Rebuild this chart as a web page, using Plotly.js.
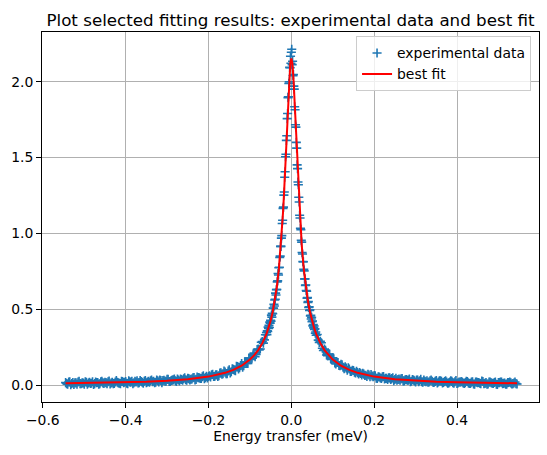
<!DOCTYPE html>
<html>
<head>
<meta charset="utf-8">
<script src="https://cdn.plot.ly/plotly-3.0.1.min.js"></script>
<style>
  html, body { margin: 0; padding: 0; background: #ffffff; }
  #plot { width: 547px; height: 455px; }
</style>
</head>
<body>
<div id="plot"></div>
<script>
// Measured spectrum: energy transfer (meV) and intensity.
// Wings are sampled on two interleaved grids, the quasi-elastic core on a fine grid.
const dataXLeft = [
  -0.545, -0.540, -0.535, -0.530, -0.525, -0.520, -0.515, -0.510, -0.505, -0.500,
  -0.495, -0.490, -0.485, -0.480, -0.475, -0.470, -0.465, -0.460, -0.455, -0.450,
  -0.445, -0.440, -0.435, -0.430, -0.425, -0.420, -0.415, -0.410, -0.405, -0.400,
  -0.395, -0.390, -0.385, -0.380, -0.375, -0.370, -0.365, -0.360, -0.355, -0.350,
  -0.345, -0.340, -0.335, -0.330, -0.325, -0.320, -0.315, -0.310, -0.305, -0.300,
  -0.295, -0.290, -0.285, -0.280, -0.275, -0.270, -0.265, -0.260, -0.255, -0.250,
  -0.245, -0.240, -0.235, -0.230, -0.225, -0.220, -0.215, -0.210, -0.205, -0.200,
  -0.195, -0.190, -0.185, -0.180, -0.175, -0.170, -0.165, -0.160, -0.155, -0.150,
  -0.145, -0.140, -0.135, -0.130, -0.125, -0.120, -0.115, -0.110, -0.105, -0.100,
  -0.095, -0.090, -0.085, -0.080, -0.075, -0.070, -0.065
];
const dataYLeft = [
  0.016, 0.006, 0.021, 0.010, 0.003, 0.015, 0.020, 0.009, 0.014, 0.006,
  0.018, 0.013, 0.011, 0.022, 0.009, 0.016, 0.006, 0.021, 0.014, 0.018,
  0.009, 0.026, 0.013, 0.009, 0.020, 0.018, 0.012, 0.024, 0.016, 0.023,
  0.009, 0.021, 0.025, 0.015, 0.020, 0.014, 0.029, 0.018, 0.025, 0.015,
  0.024, 0.028, 0.022, 0.016, 0.032, 0.020, 0.030, 0.029, 0.025, 0.037,
  0.023, 0.030, 0.034, 0.028, 0.039, 0.026, 0.036, 0.041, 0.035, 0.045,
  0.034, 0.040, 0.050, 0.037, 0.049, 0.044, 0.055, 0.042, 0.057, 0.056,
  0.054, 0.070, 0.057, 0.068, 0.061, 0.080, 0.074, 0.085, 0.075, 0.101,
  0.087, 0.103, 0.094, 0.121, 0.115, 0.141, 0.127, 0.152, 0.143, 0.178,
  0.177, 0.210, 0.201, 0.238, 0.238, 0.287, 0.298
];
const dataXLeftMid = [
  -0.5425, -0.5375, -0.5325, -0.5275, -0.5225, -0.5175, -0.5125, -0.5075, -0.5025, -0.4975,
  -0.4925, -0.4875, -0.4825, -0.4775, -0.4725, -0.4675, -0.4625, -0.4575, -0.4525, -0.4475,
  -0.4425, -0.4375, -0.4325, -0.4275, -0.4225, -0.4175, -0.4125, -0.4075, -0.4025, -0.3975,
  -0.3925, -0.3875, -0.3825, -0.3775, -0.3725, -0.3675, -0.3625, -0.3575, -0.3525, -0.3475,
  -0.3425, -0.3375, -0.3325, -0.3275, -0.3225, -0.3175, -0.3125, -0.3075, -0.3025, -0.2975,
  -0.2925, -0.2875, -0.2825, -0.2775, -0.2725, -0.2675, -0.2625, -0.2575, -0.2525, -0.2475,
  -0.2425, -0.2375, -0.2325, -0.2275, -0.2225, -0.2175, -0.2125, -0.2075, -0.2025, -0.1975,
  -0.1925, -0.1875, -0.1825, -0.1775, -0.1725, -0.1675, -0.1625, -0.1575, -0.1525, -0.1475,
  -0.1425, -0.1375, -0.1325, -0.1275, -0.1225, -0.1175, -0.1125, -0.1075, -0.1025, -0.0975,
  -0.0925, -0.0875, -0.0825, -0.0775, -0.0725, -0.0675, -0.0625
];
const dataYLeftMid = [
  0.009, 0.020, 0.002, 0.017, 0.014, 0.005, 0.024, 0.008, 0.013, 0.022,
  0.005, 0.018, 0.012, 0.003, 0.020, 0.017, 0.008, 0.025, 0.011, 0.016,
  0.022, 0.007, 0.018, 0.011, 0.029, 0.014, 0.009, 0.023, 0.018, 0.012,
  0.027, 0.018, 0.009, 0.024, 0.027, 0.016, 0.023, 0.012, 0.030, 0.020,
  0.018, 0.033, 0.025, 0.018, 0.028, 0.032, 0.016, 0.031, 0.025, 0.037,
  0.023, 0.032, 0.040, 0.024, 0.033, 0.039, 0.031, 0.047, 0.031, 0.042,
  0.038, 0.048, 0.034, 0.052, 0.048, 0.043, 0.060, 0.049, 0.046, 0.061,
  0.068, 0.056, 0.067, 0.057, 0.079, 0.071, 0.092, 0.074, 0.092, 0.080,
  0.107, 0.097, 0.123, 0.106, 0.128, 0.117, 0.153, 0.143, 0.178, 0.169,
  0.199, 0.187, 0.234, 0.232, 0.282, 0.276, 0.331
];

const dataXCore = [
  -0.060, -0.059, -0.058, -0.057, -0.056, -0.055, -0.054, -0.053, -0.052, -0.051,
  -0.050, -0.049, -0.048, -0.047, -0.046, -0.045, -0.044, -0.043, -0.042, -0.041,
  -0.040, -0.039, -0.038, -0.037, -0.036, -0.035, -0.034, -0.033, -0.032, -0.031,
  -0.030, -0.029, -0.028, -0.027, -0.026, -0.025, -0.024, -0.023, -0.022, -0.021,
  -0.020, -0.019, -0.018, -0.017, -0.016, -0.015, -0.014, -0.013, -0.012, -0.011,
  -0.010, -0.009, -0.008, -0.007, -0.006, -0.005, -0.004, -0.003, -0.002, -0.001,
  0.000,
  0.001, 0.002, 0.003, 0.004, 0.005, 0.006, 0.007, 0.008, 0.009, 0.010,
  0.011, 0.012, 0.013, 0.014, 0.015, 0.016, 0.017, 0.018, 0.019, 0.020,
  0.021, 0.022, 0.023, 0.024, 0.025, 0.026, 0.027, 0.028, 0.029, 0.030,
  0.031, 0.032, 0.033, 0.034, 0.035, 0.036, 0.037, 0.038, 0.039, 0.040,
  0.041, 0.042, 0.043, 0.044, 0.045, 0.046, 0.047, 0.048, 0.049, 0.050,
  0.051, 0.052, 0.053, 0.054, 0.055, 0.056, 0.057, 0.058, 0.059, 0.060
];
const dataYCore = [
  0.346, 0.332, 0.357, 0.353, 0.382, 0.373, 0.393, 0.379, 0.415, 0.407,
  0.426, 0.421, 0.461, 0.448, 0.473, 0.470, 0.508, 0.506, 0.533, 0.521,
  0.561, 0.566, 0.606, 0.594, 0.629, 0.630, 0.680, 0.687, 0.735, 0.726,
  0.773, 0.777, 0.841, 0.850, 0.914, 0.914, 0.969, 0.985, 1.065, 1.087,
  1.165, 1.173, 1.252, 1.273, 1.370, 1.406, 1.505, 1.522, 1.613, 1.644,
  1.757, 1.791, 1.895, 1.901, 1.988, 1.999, 2.095, 2.092, 2.168, 2.122,
  2.194,
  2.214, 2.113, 2.135, 2.039, 2.048, 1.971, 1.951, 1.835, 1.815, 1.716,
  1.701, 1.600, 1.562, 1.452, 1.427, 1.339, 1.321, 1.238, 1.207, 1.120,
  1.101, 1.034, 1.025, 0.955, 0.942, 0.874, 0.864, 0.814, 0.813, 0.763,
  0.753, 0.699, 0.700, 0.657, 0.660, 0.623, 0.618, 0.573, 0.576, 0.545,
  0.551, 0.511, 0.515, 0.491, 0.496, 0.456, 0.460, 0.435, 0.446, 0.418,
  0.422, 0.390, 0.398, 0.377, 0.389, 0.366, 0.370, 0.341, 0.350, 0.328
];

const dataXRight = [
  0.065, 0.070, 0.075, 0.080, 0.085, 0.090, 0.095, 0.100, 0.105, 0.110,
  0.115, 0.120, 0.125, 0.130, 0.135, 0.140, 0.145, 0.150, 0.155, 0.160,
  0.165, 0.170, 0.175, 0.180, 0.185, 0.190, 0.195, 0.200, 0.205, 0.210,
  0.215, 0.220, 0.225, 0.230, 0.235, 0.240, 0.245, 0.250, 0.255, 0.260,
  0.265, 0.270, 0.275, 0.280, 0.285, 0.290, 0.295, 0.300, 0.305, 0.310,
  0.315, 0.320, 0.325, 0.330, 0.335, 0.340, 0.345, 0.350, 0.355, 0.360,
  0.365, 0.370, 0.375, 0.380, 0.385, 0.390, 0.395, 0.400, 0.405, 0.410,
  0.415, 0.420, 0.425, 0.430, 0.435, 0.440, 0.445, 0.450, 0.455, 0.460,
  0.465, 0.470, 0.475, 0.480, 0.485, 0.490, 0.495, 0.500, 0.505, 0.510,
  0.515, 0.520, 0.525, 0.530, 0.535, 0.540, 0.545
];
const dataYRight = [
  0.296, 0.289, 0.242, 0.237, 0.198, 0.204, 0.176, 0.180, 0.145, 0.150,
  0.129, 0.137, 0.117, 0.120, 0.097, 0.106, 0.090, 0.096, 0.079, 0.082,
  0.082, 0.066, 0.072, 0.064, 0.071, 0.055, 0.059, 0.062, 0.045, 0.055,
  0.046, 0.054, 0.040, 0.044, 0.047, 0.037, 0.048, 0.036, 0.031, 0.039,
  0.041, 0.027, 0.035, 0.031, 0.039, 0.025, 0.032, 0.020, 0.033, 0.028,
  0.022, 0.032, 0.022, 0.018, 0.028, 0.025, 0.018, 0.030, 0.020, 0.027,
  0.014, 0.023, 0.020, 0.014, 0.028, 0.016, 0.022, 0.010, 0.020, 0.023,
  0.013, 0.016, 0.023, 0.010, 0.019, 0.007, 0.020, 0.016, 0.012, 0.026,
  0.009, 0.016, 0.007, 0.020, 0.012, 0.017, 0.005, 0.016, 0.020, 0.009,
  0.013, 0.006, 0.017, 0.014, 0.009, 0.020, 0.007
];
const dataXRightMid = [
  0.0625, 0.0675, 0.0725, 0.0775, 0.0825, 0.0875, 0.0925, 0.0975, 0.1025, 0.1075,
  0.1125, 0.1175, 0.1225, 0.1275, 0.1325, 0.1375, 0.1425, 0.1475, 0.1525, 0.1575,
  0.1625, 0.1675, 0.1725, 0.1775, 0.1825, 0.1875, 0.1925, 0.1975, 0.2025, 0.2075,
  0.2125, 0.2175, 0.2225, 0.2275, 0.2325, 0.2375, 0.2425, 0.2475, 0.2525, 0.2575,
  0.2625, 0.2675, 0.2725, 0.2775, 0.2825, 0.2875, 0.2925, 0.2975, 0.3025, 0.3075,
  0.3125, 0.3175, 0.3225, 0.3275, 0.3325, 0.3375, 0.3425, 0.3475, 0.3525, 0.3575,
  0.3625, 0.3675, 0.3725, 0.3775, 0.3825, 0.3875, 0.3925, 0.3975, 0.4025, 0.4075,
  0.4125, 0.4175, 0.4225, 0.4275, 0.4325, 0.4375, 0.4425, 0.4475, 0.4525, 0.4575,
  0.4625, 0.4675, 0.4725, 0.4775, 0.4825, 0.4875, 0.4925, 0.4975, 0.5025, 0.5075,
  0.5125, 0.5175, 0.5225, 0.5275, 0.5325, 0.5375, 0.5425
];
const dataYRightMid = [
  0.333, 0.281, 0.279, 0.228, 0.229, 0.193, 0.202, 0.168, 0.172, 0.139,
  0.148, 0.128, 0.133, 0.108, 0.112, 0.114, 0.090, 0.097, 0.084, 0.091,
  0.073, 0.076, 0.078, 0.063, 0.056, 0.066, 0.069, 0.055, 0.060, 0.044,
  0.053, 0.044, 0.056, 0.044, 0.036, 0.047, 0.042, 0.029, 0.044, 0.036,
  0.032, 0.042, 0.027, 0.036, 0.032, 0.022, 0.036, 0.027, 0.033, 0.022,
  0.037, 0.019, 0.025, 0.028, 0.020, 0.032, 0.017, 0.024, 0.013, 0.027,
  0.025, 0.017, 0.027, 0.012, 0.020, 0.024, 0.012, 0.030, 0.014, 0.018,
  0.020, 0.010, 0.025, 0.014, 0.011, 0.022, 0.006, 0.019, 0.017, 0.009,
  0.023, 0.011, 0.006, 0.019, 0.015, 0.010, 0.020, 0.003, 0.016, 0.019,
  0.011, 0.005, 0.016, 0.020, 0.007, 0.013, 0.009
];

// Best-fit model curve
const fitX = [
  -0.545, -0.500, -0.450, -0.400, -0.350, -0.300, -0.250, -0.200, -0.180, -0.160,
  -0.140, -0.120, -0.100, -0.090, -0.080, -0.070, -0.060, -0.055, -0.050, -0.045,
  -0.040, -0.035, -0.030, -0.025, -0.020, -0.0175, -0.015, -0.0125, -0.010, -0.0075,
  -0.005, -0.0025, 0.000,
  0.0025, 0.005, 0.0075, 0.010, 0.0125, 0.015, 0.0175, 0.020, 0.025, 0.030,
  0.035, 0.040, 0.045, 0.050, 0.055, 0.060, 0.070, 0.080, 0.090, 0.100,
  0.120, 0.140, 0.160, 0.180, 0.200, 0.250, 0.300, 0.350, 0.400, 0.450,
  0.500, 0.545
];
const fitY = [
  0.0116, 0.0130, 0.0150, 0.0179, 0.0220, 0.0282, 0.0381, 0.0555, 0.0661, 0.0804,
  0.0999, 0.1274, 0.1678, 0.1954, 0.2304, 0.2760, 0.3372, 0.3764, 0.4235, 0.4814,
  0.5538, 0.6463, 0.7671, 0.9274, 1.1406, 1.2706, 1.4160, 1.5740, 1.7381, 1.8957,
  2.0300, 2.1215, 2.1540,
  2.1215, 2.0300, 1.8957, 1.7381, 1.5740, 1.4160, 1.2706, 1.1406, 0.9274, 0.7671,
  0.6463, 0.5538, 0.4814, 0.4235, 0.3764, 0.3372, 0.2760, 0.2304, 0.1954, 0.1678,
  0.1274, 0.0999, 0.0804, 0.0661, 0.0555, 0.0381, 0.0282, 0.0220, 0.0179, 0.0150,
  0.0130, 0.0116
];

const xTicks = [-0.6, -0.4, -0.2, 0.0, 0.2, 0.4];
const yTicks = [0.0, 0.5, 1.0, 1.5, 2.0];

const titleText = 'Plot selected fitting results: experimental data and best fit';
const xLabel = 'Energy transfer (meV)';

const FONT = 'DejaVu Sans, sans-serif';

const dataX = dataXLeft.concat(dataXLeftMid, dataXCore, dataXRightMid, dataXRight);
const dataY = dataYLeft.concat(dataYLeftMid, dataYCore, dataYRightMid, dataYRight);

const traces = [
  {
    type: 'scatter',
    mode: 'markers',
    name: 'experimental data',
    x: dataX,
    y: dataY,
    marker: {
      symbol: 'cross-thin',
      size: 6.5,
      color: '#1f77b4',
      line: { color: '#1f77b4', width: 1.6 }
    }
  },
  {
    type: 'scatter',
    mode: 'lines',
    name: 'best fit',
    x: fitX,
    y: fitY,
    line: { color: '#ff0000', width: 2 }
  }
];

const axisCommon = {
  showline: true,
  mirror: true,
  linecolor: '#000000',
  linewidth: 1,
  ticks: 'outside',
  ticklen: 5,
  tickwidth: 1,
  tickcolor: '#000000',
  showgrid: true,
  gridcolor: '#b0b0b0',
  gridwidth: 1,
  zeroline: false,
  tickfont: { family: FONT, size: 13.9, color: '#000000' },
  tickformat: '.1f'
};

const layout = {
  width: 547,
  height: 455,
  margin: { l: 42, r: 8, t: 32, b: 53 },
  paper_bgcolor: '#ffffff',
  plot_bgcolor: '#ffffff',
  font: { family: FONT, size: 13.9, color: '#000000' },
  title: {
    text: titleText,
    font: { family: FONT, size: 16.7, color: '#000000' },
    x: 0.5,
    xref: 'paper',
    xanchor: 'center',
    y: 1,
    yref: 'paper',
    yanchor: 'bottom',
    pad: { b: 6 }
  },
  xaxis: Object.assign({}, axisCommon, {
    range: [-0.602, 0.598],
    tickvals: xTicks,
    title: { text: xLabel, font: { family: FONT, size: 13.9, color: '#000000' }, standoff: 4 }
  }),
  yaxis: Object.assign({}, axisCommon, {
    range: [-0.112, 2.328],
    tickvals: yTicks
  }),
  showlegend: true,
  legend: {
    x: 0.984,
    xanchor: 'right',
    y: 0.988,
    yanchor: 'top',
    bgcolor: 'rgba(255,255,255,0.8)',
    bordercolor: '#cccccc',
    borderwidth: 1,
    font: { family: FONT, size: 13.9, color: '#000000' }
  }
};

Plotly.newPlot('plot', traces, layout, { displayModeBar: false, staticPlot: true });
</script>
</body>
</html>
